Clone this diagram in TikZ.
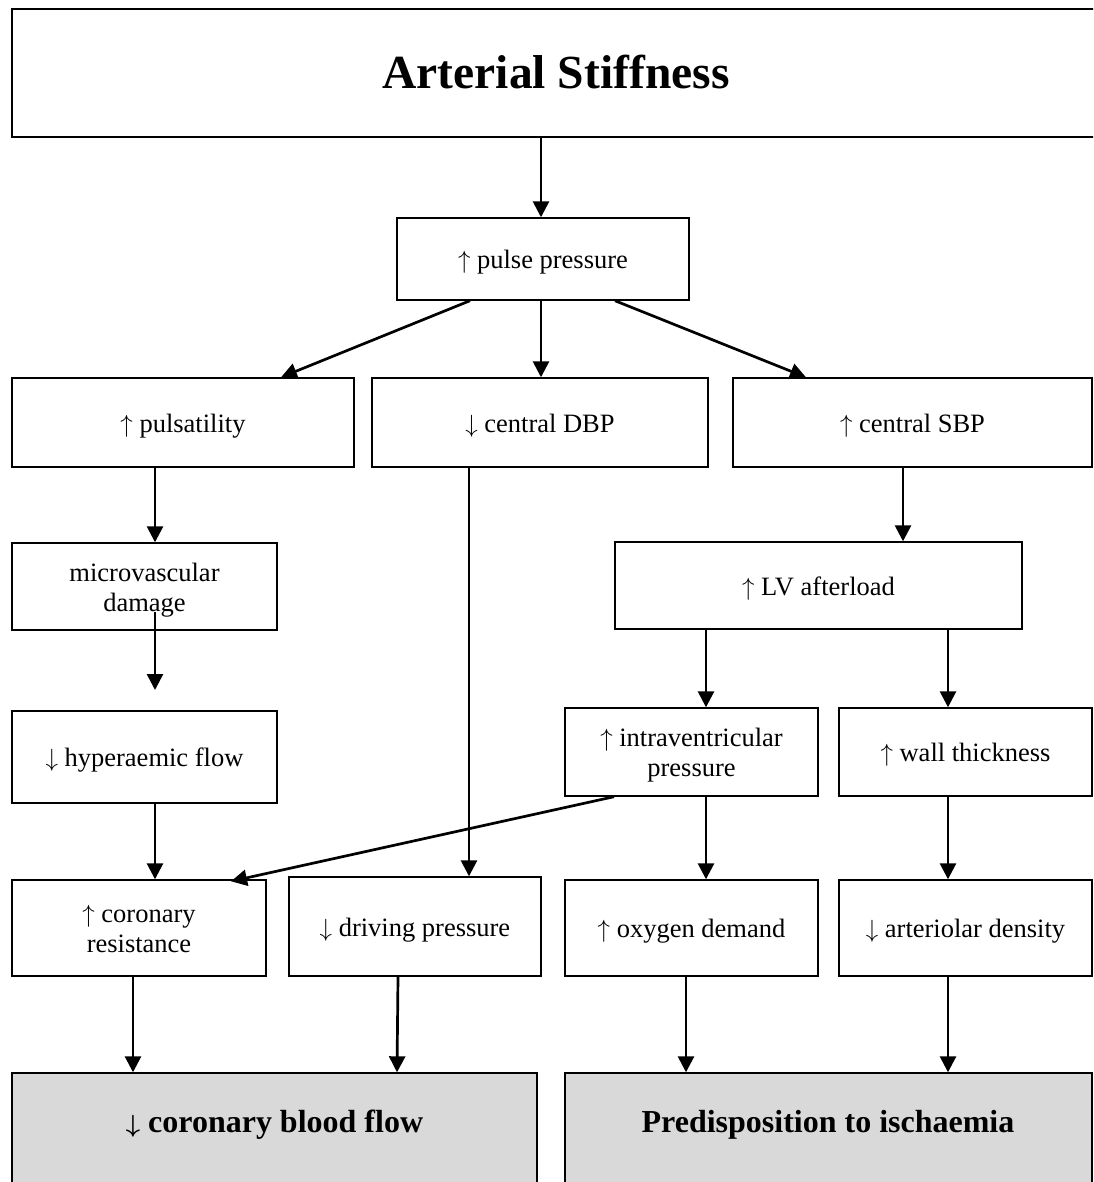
\documentclass[tikz,border=0pt]{standalone}
\usepackage{fontspec}
\setmainfont{Liberation Serif}
\usetikzlibrary{arrows.meta}

\newcommand{\up}{$\uparrow$}
\newcommand{\dn}{$\downarrow$}

\begin{document}
\begin{tikzpicture}[x=1pt,y=-1pt,
  box/.style n args={2}{draw=black, line width=1.4pt, rectangle, inner sep=0pt,
    minimum width=#1, minimum height=#2, align=center,
    font=\fontsize{26.5}{30}\selectfont, text height=21pt, text depth=2pt},
  two/.style={text height=51pt},
  endbox/.style n args={2}{draw=black, line width=1.4pt, fill=black!15,
    inner sep=0pt, minimum width=#1, minimum height=#2},
  arr/.style={line width=2.7pt, -{Triangle[width=16pt,length=16pt]}},
  lbl/.style={inner sep=0pt, font=\fontsize{32}{36}\bfseries\selectfont}
]
\useasboundingbox (0,0) rectangle (1093,1182);
\clip (0,0) rectangle (1093,1182);

% title box (runs off the right edge)
\node[box={1088pt}{128pt}, font=\fontsize{47.5}{52}\bfseries\selectfont,
  text height=32pt, text depth=1pt]
  (top) at (556,73) {Arterial Stiffness};

% first level
\node[box={292pt}{82pt}]  (pp)   at (543,259)   {\up{} pulse pressure};
\node[box={342pt}{89pt}]  (puls) at (183,422.5) {\up{} pulsatility};
\node[box={336pt}{89pt}]  (dbp)  at (540,422.5) {\dn{} central DBP};
\node[box={359pt}{89pt}]  (sbp)  at (912.5,422.5) {\up{} central SBP};

% second level
\node[box={265pt}{87pt}, two] (micro) at (144.5,586.5) {microvascular\\damage};
\node[box={407pt}{87pt}]      (lv)    at (818.5,585.5) {\up{} LV afterload};

% third level
\node[box={265pt}{92pt}]      (hf)  at (144.5,757) {\dn{} hyperaemic flow};
\node[box={253pt}{88pt}, two] (ivp) at (691.5,752) {\up{} intraventricular\\pressure};
\node[box={253pt}{88pt}]      (wt)  at (965.5,752) {\up{} wall thickness};

% fourth level
\node[box={254pt}{96pt}, two] (cr) at (139,928)   {\up{} coronary\\resistance};
\node[box={252pt}{99pt}]      (dp) at (415,926.5) {\dn{} driving pressure};
\node[box={253pt}{96pt}]      (od) at (691.5,928) {\up{} oxygen demand};
\node[box={253pt}{96pt}]      (ad) at (965.5,928) {\dn{} arteriolar density};

% outcome boxes (run off the bottom edge)
\node[endbox={525pt}{140pt}] (cbf)  at (274.5,1143) {};
\node[endbox={527pt}{140pt}] (pred) at (828.5,1143) {};
\node[lbl] (cbft)  at (274.5,1125) {{\boldmath$\downarrow$} coronary blood flow};
\node[lbl] (predt) at (828,1125)   {Predisposition to ischaemia};

% free-standing arrow inside the microvascular box
\coordinate (mvs) at (155,612);
\coordinate (mve) at (155,690);

% connectors
\draw[arr] (top.south -| 541,0) -- (pp.north -| 541,0);
\draw[arr] (pp.south -| 470,0) -- (puls.north -| 281,0);
\draw[arr] (pp.south -| 541,0) -- (dbp.north -| 541,0);
\draw[arr] (pp.south -| 615,0) -- (sbp.north -| 806,0);

\draw[arr] (puls.south -| 155,0) -- (micro.north -| 155,0);
\draw[arr] (mvs) -- (mve);
\draw[arr] (dbp.south -| 469,0) -- (dp.north -| 469,0);
\draw[arr] (sbp.south -| 903,0) -- (lv.north -| 903,0);

\draw[arr] (lv.south -| 706,0) -- (ivp.north -| 706,0);
\draw[arr] (lv.south -| 948,0) -- (wt.north -| 948,0);

\draw[arr] (hf.south -| 155,0) -- (cr.north -| 155,0);
\draw[arr] (ivp.south -| 614,0) -- ([yshift=-2pt]cr.north -| 231,0);
\draw[arr] (ivp.south -| 706,0) -- (od.north -| 706,0);
\draw[arr] (wt.south -| 948,0) -- (ad.north -| 948,0);

\draw[arr] (cr.south -| 133,0) -- (cbf.north -| 133,0);
\draw[arr] (dp.south -| 398,0) -- (cbf.north -| 397,0);
\draw[arr] (od.south -| 686,0) -- (pred.north -| 686,0);
\draw[arr] (ad.south -| 948,0) -- (pred.north -| 948,0);
\end{tikzpicture}
\end{document}
